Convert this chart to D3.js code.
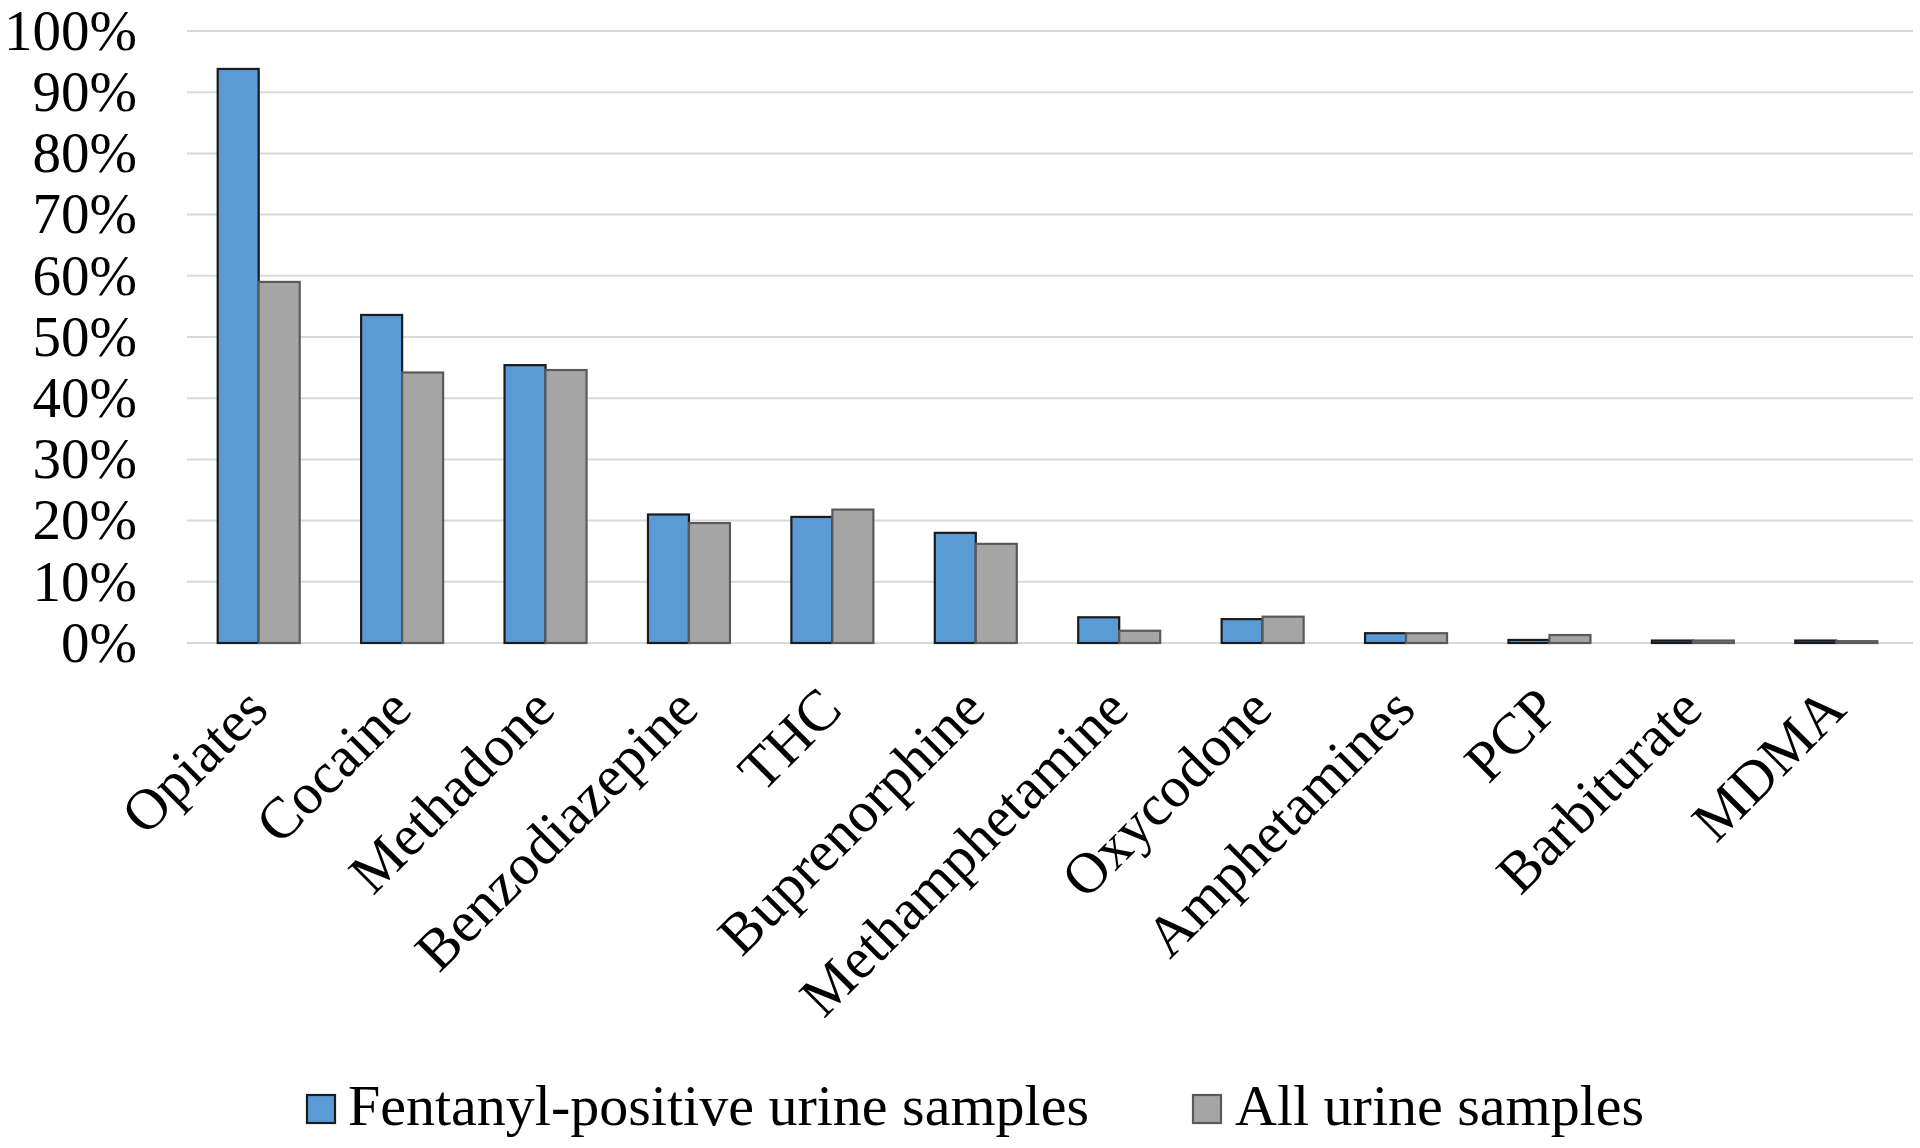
<!DOCTYPE html>
<html>
<head>
<meta charset="utf-8">
<script src="https://cdn.jsdelivr.net/npm/d3@7"></script>
<style>
  html, body { margin: 0; padding: 0; background: #fff; }
  svg { display: block; }
  text { font-family: "Liberation Serif", "Times New Roman", serif; fill: #000; }
</style>
</head>
<body>
<svg id="chart" width="1920" height="1148"></svg>
<script>
const categories = ["Opiates","Cocaine","Methadone","Benzodiazepine","THC","Buprenorphine","Methamphetamine","Oxycodone","Amphetamines","PCP","Barbiturate","MDMA"];
const fentanylPositive = [93.8, 53.6, 45.4, 21.0, 20.6, 18.0, 4.2, 3.9, 1.6, 0.5, 0.4, 0.4];
const allSamples = [59.0, 44.2, 44.6, 19.6, 21.8, 16.2, 2.0, 4.3, 1.6, 1.3, 0.4, 0.3];
const seriesNames = ["Fentanyl-positive urine samples", "All urine samples"];
const yTicks = [0, 10, 20, 30, 40, 50, 60, 70, 80, 90, 100];

(function () {
const svg = d3.select("#chart");
const plotLeft = 187, plotRight = 1908, gridRight = 1913, plotTop = 31, plotBottom = 643;

const x = d3.scaleBand().domain(categories).range([plotLeft, plotRight]).paddingInner(0).paddingOuter(0);
const y = d3.scaleLinear().domain([0, 100]).range([plotBottom, plotTop]);
const barW = 41;

const fills = ["#5B9BD5", "#A5A5A5"];
const strokes = ["#1b1b1b", "#5a5a5a"];

// gridlines
svg.append("g").selectAll("line").data(yTicks).join("line")
  .attr("x1", plotLeft).attr("x2", gridRight)
  .attr("y1", d => y(d)).attr("y2", d => y(d))
  .attr("stroke", "#d9d9d9").attr("stroke-width", 2);

// y tick labels
const yAxis = d3.axisLeft(y).tickValues(yTicks).tickFormat(d => d + "%").tickSize(0).tickPadding(0);
const ya = svg.append("g").attr("transform", `translate(137,0)`).call(yAxis);
ya.select(".domain").remove();
ya.selectAll("text").attr("font-size", 57).attr("dy", "0.32em")
  .style("font-family", '"Liberation Serif", "Times New Roman", serif').attr("fill", "#000");

// bars
const series = [fentanylPositive, allSamples];
series.forEach((vals, si) => {
  svg.append("g").selectAll("rect").data(categories).join("rect")
    .attr("x", (c) => x(c) + x.bandwidth() / 2 - barW + si * barW)
    .attr("y", (c, i) => y(vals[i]))
    .attr("width", barW)
    .attr("height", (c, i) => y(0) - y(vals[i]))
    .attr("fill", fills[si])
    .attr("stroke", strokes[si])
    .attr("stroke-width", 2.2);
});

// category labels
svg.append("g").selectAll("text").data(categories).join("text")
  .attr("transform", c => `translate(${x(c) + x.bandwidth() / 2 + 12},712) rotate(-45)`)
  .attr("text-anchor", "end")
  .attr("font-size", 58)
  .text(c => c);

// legend
const legend = [
  { sx: 307, tx: 348 },
  { sx: 1193, tx: 1235 }
];
legend.forEach((l, i) => {
  svg.append("rect").attr("x", l.sx).attr("y", 1095).attr("width", 28).attr("height", 28)
    .attr("fill", fills[i]).attr("stroke", strokes[i]).attr("stroke-width", 2.2);
  svg.append("text").attr("x", l.tx).attr("y", 1125).attr("font-size", 58).text(seriesNames[i]);
});
})();
</script>
</body>
</html>
